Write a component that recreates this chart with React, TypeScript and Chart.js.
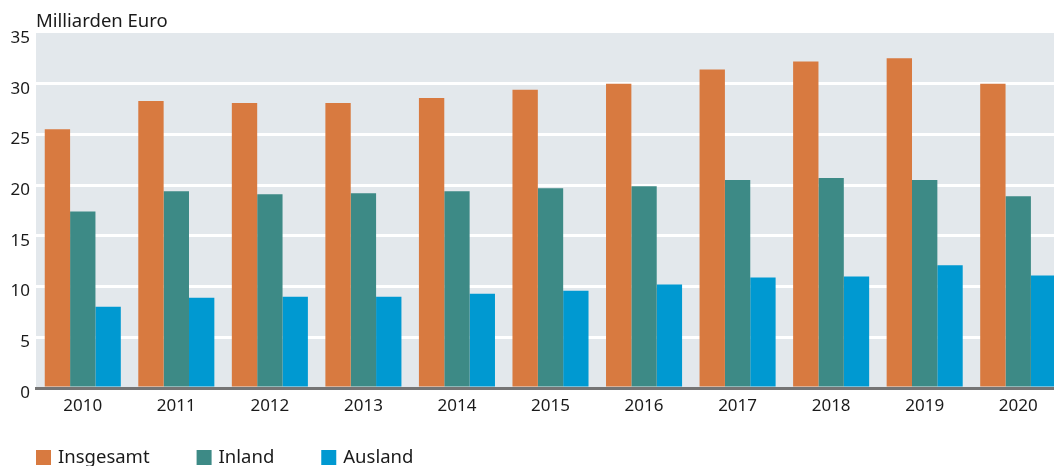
import React, { useEffect, useRef } from "react";
import { Chart, registerables } from "chart.js";

Chart.register(...registerables);

const years = ["2010", "2011", "2012", "2013", "2014", "2015", "2016", "2017", "2018", "2019", "2020"];
const insgesamt = [25.5, 28.3, 28.1, 28.1, 28.6, 29.4, 30.0, 31.4, 32.2, 32.5, 30.0];
const inland = [17.4, 19.4, 19.1, 19.2, 19.4, 19.7, 19.9, 20.5, 20.7, 20.5, 18.9];
const ausland = [8.0, 8.9, 9.0, 9.0, 9.3, 9.6, 10.2, 10.9, 11.0, 12.1, 11.1];
const seriesNames = ["Insgesamt", "Inland", "Ausland"];
const seriesColors = ["#d87a40", "#3d8a86", "#0099d1"];
const unitLabel = "Milliarden Euro";

const FONT = "'Noto Sans', sans-serif";

export default function App() {
  const ref = useRef<HTMLCanvasElement | null>(null);

  useEffect(() => {
    if (!ref.current) return;
    const bgPlugin = {
      id: "bgPlugin",
      beforeDraw(chart: any) {
        const { ctx, chartArea } = chart;
        ctx.save();
        ctx.fillStyle = "#e3e8ec";
        ctx.fillRect(chartArea.left, chartArea.top, chartArea.right - chartArea.left, chartArea.bottom - chartArea.top);
        ctx.restore();
      },
      afterDraw(chart: any) {
        const { ctx, chartArea } = chart;
        ctx.save();
        ctx.fillStyle = "#1a1a1a";
        ctx.font = `18.5px ${FONT}`;
        ctx.textBaseline = "alphabetic";
        ctx.textAlign = "left";
        ctx.fillText(unitLabel, chartArea.left, 27);
        // legend
        let x = chartArea.left;
        const y = 450;
        ctx.font = `18.5px ${FONT}`;
        ctx.textBaseline = "middle";
        seriesNames.forEach((name, i) => {
          ctx.fillStyle = seriesColors[i];
          ctx.fillRect(x, y, 15, 15);
          ctx.fillStyle = "#1a1a1a";
          ctx.fillText(name, x + 22, y + 8);
          x += 22 + ctx.measureText(name).width + 47;
        });
        ctx.restore();
      },
    };

    const chart = new Chart(ref.current, {
      type: "bar",
      data: {
        labels: years,
        datasets: [insgesamt, inland, ausland].map((d, i) => ({
          label: seriesNames[i],
          data: d,
          backgroundColor: seriesColors[i],
          borderWidth: 0,
          categoryPercentage: 0.813,
          barPercentage: 1,
        })),
      },
      options: {
        animation: false,
        responsive: true,
        maintainAspectRatio: false,
        layout: { padding: { top: 33, left: 0, right: 0, bottom: 0 } },
        plugins: {
          legend: { display: false },
          tooltip: { enabled: false },
          title: { display: false },
        },
        scales: {
          x: {
            grid: { display: false },
            border: { display: true, color: "#757575", width: 3 },
            ticks: {
              color: "#1a1a1a",
              font: { family: FONT, size: 17 },
              padding: 0,
            },
            afterFit(scale: any) {
              scale.height = 78;
            },
          },
          y: {
            min: 0,
            max: 35,
            grid: {
              color: (c: any) => (c.tick && c.tick.value === 35 ? "rgba(0,0,0,0)" : "#ffffff"),
              lineWidth: 3,
              drawTicks: false,
            },
            border: { display: false },
            ticks: {
              stepSize: 5,
              color: "#1a1a1a",
              font: { family: FONT, size: 17 },
              padding: 6,
              labelOffset: 5,
            },
            afterFit(scale: any) {
              scale.width = 36;
            },
          },
        },
      },
      plugins: [bgPlugin],
    });
    return () => chart.destroy();
  }, []);

  return (
    <div style={{ position: "fixed", left: 0, top: 0, width: 1054, height: 466, overflow: "hidden", background: "#fff" }}>
      <div style={{ position: "relative", width: 1065, height: 466 }}>
        <canvas ref={ref} />
      </div>
    </div>
  );
}
